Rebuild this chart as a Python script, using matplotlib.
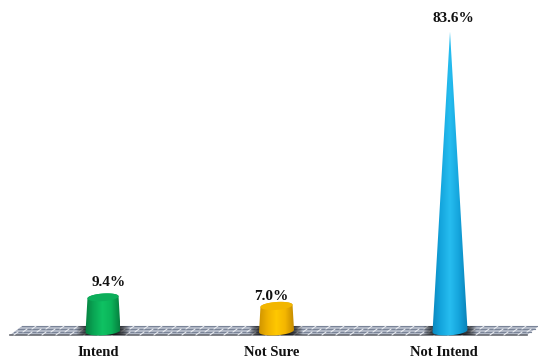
import numpy as np
import matplotlib
matplotlib.use("Agg")
import matplotlib.pyplot as plt
from matplotlib.colors import LinearSegmentedColormap
from matplotlib.patches import Polygon

categories = ["Intend", "Not Sure", "Not Intend"]
values = [9.4, 7.0, 83.6]
value_labels = ["9.4%", "7.0%", "83.6%"]
side_colors = [
    ["#067f40", "#0aa654", "#0fc263", "#0bb45a", "#06803f"],
    ["#cf9400", "#f0b200", "#ffc800", "#f4b600", "#c48a00"],
    ["#0a86bd", "#14a6de", "#27bdf0", "#14a4dc", "#0a7fb5"],
]
cap_colors = ["#0cae5a", "#f2b600", "#1aa8e0"]
category_shift = [-0.03, -0.03, -0.035]
value_shift = [0.035, -0.03, 0.02]
label_rise = [15, 9, 13]

PX_X = 173.5   # pixels per category step
PX_Y = 3.58    # pixels per percentage point
W, H = 538, 360
BASE_PX = 331  # pixel row of the zero level
LEFT_PX = 103  # pixel column of the first category

fig = plt.figure(figsize=(W / 100, H / 100), dpi=100, facecolor="white")
ax = fig.add_axes([0, 0, 1, 1])
ax.set_xlim(-LEFT_PX / PX_X, (W - LEFT_PX) / PX_X)
ax.set_ylim(-(H - BASE_PX) / PX_Y, BASE_PX / PX_Y)
ax.axis("off")

def px(dx):
    return dx / PX_X

def py(dy):
    return dy / PX_Y

# Floor slab with its brick pattern
x_left, x_right = px(10 - LEFT_PX), px(527 - LEFT_PX)
skew = px(12)
y_low, y_high = py(BASE_PX - 335), py(BASE_PX - 326)
floor = Polygon([(x_left, y_low), (x_right, y_low), (x_right + skew, y_high),
                 (x_left + skew, y_high)], closed=True, fc="#b4bac8", ec="none", zorder=1)
ax.add_patch(floor)
rows = np.linspace(y_low, y_high, 4)
for i, yr in enumerate(rows):
    frac = (yr - y_low) / (y_high - y_low)
    ax.plot([x_left + skew * frac, x_right + skew * frac], [yr, yr],
            color="#7a8498" if i else "#686b72", lw=0.8 if i else 1.2, zorder=2)
for i in range(3):
    y0, y1 = rows[i], rows[i + 1]
    f0, f1 = i / 3, (i + 1) / 3
    for xb in np.arange(x_left + px(4 + 5 * i), x_right, px(14)):
        ax.plot([xb + skew * f0, xb + skew * f1], [y0, y1], color="#f0f2f6", lw=0.7, zorder=2)

peak = max(values)
R0 = px(17.5)
RY = py(4.3)
TILT = py(1.2)

def ring(cx, r, level, t):
    # Ellipse around the cone axis, leaning slightly upward to the right
    xs = cx + r * np.cos(t)
    ys = level + RY * (r / R0) * np.sin(t) + TILT * (r / R0) * np.cos(t)
    return xs, ys

for i, (v, cols, cap) in enumerate(zip(values, side_colors, cap_colors)):
    r_top = R0 * (1 - v / peak)

    # Contact shadow, fading sideways and confined to the floor
    fade = 1 - np.abs(np.linspace(-1, 1, 128)) ** 3
    rgba = np.zeros((1, 128, 4))
    rgba[..., :3] = 0.07
    rgba[..., 3] = fade
    shade = ax.imshow(rgba, aspect="auto", extent=[i - px(27), i + px(27), y_low, y_high],
                      zorder=3, interpolation="bilinear")
    shade.set_clip_path(floor)

    # Cone side: lower half of the base ellipse joined to the upper ring
    tb = np.linspace(np.pi, 2 * np.pi, 60)
    bx, by = ring(i, R0, 0, tb)
    tt = np.linspace(0, np.pi, 60)
    tx, ty = ring(i, r_top, v, tt)
    outline = np.column_stack([np.r_[bx, tx], np.r_[by, ty]])
    body = Polygon(outline, closed=True, fc="none", ec="none", zorder=4)
    ax.add_patch(body)
    cmap = LinearSegmentedColormap.from_list(categories[i], cols)
    img = ax.imshow(np.linspace(0, 1, 256).reshape(1, -1), cmap=cmap, aspect="auto",
                    extent=[i - R0, i + R0, py(-6), v + py(6)], zorder=4, interpolation="bilinear")
    img.set_clip_path(body)

    # Flat cap on the truncated cones
    if r_top > px(1):
        t = np.linspace(0, 2 * np.pi, 120)
        cx_, cy_ = ring(i, r_top, v, t)
        ax.add_patch(Polygon(np.column_stack([cx_, cy_]), closed=True, fc=cap, ec="none", zorder=5))

    ax.text(i + value_shift[i], v + py(label_rise[i]), value_labels[i], ha="center", va="center",
            family="Liberation Serif", weight="bold", fontsize=11, color="#111111", zorder=6)
    ax.text(i + category_shift[i], py(BASE_PX - 352), categories[i], ha="center", va="center",
            family="Liberation Serif", weight="bold", fontsize=10.5, color="#111111", zorder=6)

ax.set_xlim(-LEFT_PX / PX_X, (W - LEFT_PX) / PX_X)
ax.set_ylim(-(H - BASE_PX) / PX_Y, BASE_PX / PX_Y)
fig.savefig("out.png", dpi=100, facecolor="white")
